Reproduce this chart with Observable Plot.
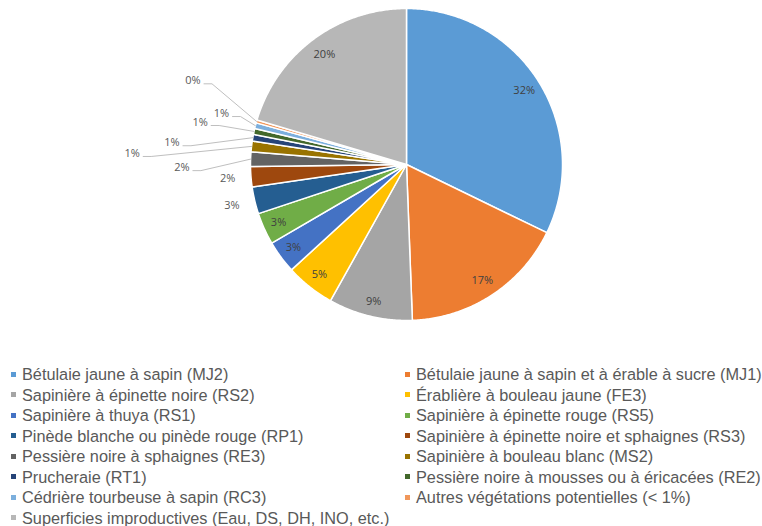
<!DOCTYPE html>
<html><head><meta charset="utf-8">
<script src="https://cdn.jsdelivr.net/npm/d3@7"></script>
<script src="https://cdn.jsdelivr.net/npm/@observablehq/plot@0.6"></script>
<style>
body{margin:0;background:#fff;width:762px;height:526px;overflow:hidden;}
#chart svg{display:block;}
#legend{display:grid;grid-template-columns:403px 359px;padding-top:24px;font-family:"Liberation Sans",Arial,sans-serif;font-size:16.3px;color:#595959;}
.item{height:20.5px;line-height:20.5px;white-space:nowrap;display:flex;align-items:center;}
.item .sw{width:5px;height:5px;margin-right:6px;flex:none;}
.item.l{padding-left:11px;}
.item.r{padding-left:2px;}
</style>
</head><body>
<div id="chart"></div>
<div id="legend"></div>
<script>
// ---- data ----
const categories = [
  "Bétulaie jaune à sapin (MJ2)",
  "Bétulaie jaune à sapin et à érable à sucre (MJ1)",
  "Sapinière à épinette noire (RS2)",
  "Érablière à bouleau jaune (FE3)",
  "Sapinière à thuya (RS1)",
  "Sapinière à épinette rouge (RS5)",
  "Pinède blanche ou pinède rouge (RP1)",
  "Sapinière à épinette noire et sphaignes (RS3)",
  "Pessière noire à sphaignes (RE3)",
  "Sapinière à bouleau blanc (MS2)",
  "Prucheraie (RT1)",
  "Pessière noire à mousses ou à éricacées (RE2)",
  "Cédrière tourbeuse à sapin (RC3)",
  "Autres végétations potentielles (< 1%)",
  "Superficies improductives (Eau, DS, DH, INO, etc.)"
];
const values = [32.2, 17.2, 8.7, 5.1, 3.4, 3.3, 2.8, 2.1, 1.5, 1.1, 0.7, 0.6, 0.6, 0.3, 20.4];
const colors = ["#5B9BD5","#ED7D31","#A5A5A5","#FFC000","#4472C4","#70AD47","#255E91","#9E480E","#636363","#997300","#264478","#43682B","#7CAFDD","#F1975A","#B7B7B7"];

// ---- label layout (polar: radius factor, angle in degrees; null = slice mid-angle) ----
const labelRadius = [0.89,0.89,0.9,0.9,0.9,0.9,1.15,1.15,1.44,1.76,1.51,1.35,1.23,1.47,0.88];
const labelAngle  = [null,null,null,null,null,null,null,null,269.2,272.3,275.3,281.5,285.4,291.4,null];
const withLeader  = [0,0,0,0,0,0,0,0,1,1,1,1,1,1,0];

const R = 156; // pixel radius used only to convert pixel offsets
const total = d3.sum(values);
const arcs = d3.pie().sort(null).value(d => d)(values);

// slice polygons
const slicePts = [];
arcs.forEach((a, i) => {
  const cat = categories[i];
  slicePts.push({cat, x: 0, y: 0});
  const n = Math.max(2, Math.ceil((a.endAngle - a.startAngle) / (Math.PI / 360)));
  for (let k = 0; k <= n; k++) {
    const t = a.startAngle + (a.endAngle - a.startAngle) * k / n;
    slicePts.push({cat, x: Math.sin(t), y: Math.cos(t)});
  }
});

// labels
const labels = arcs.map((a, i) => {
  const mid = (a.startAngle + a.endAngle) / 2;
  const ang = labelAngle[i] == null ? mid : labelAngle[i] * Math.PI / 180;
  const r = labelRadius[i];
  return {
    text: Math.round(values[i] / total * 100) + "%",
    x: r * Math.sin(ang), y: r * Math.cos(ang),
    inside: r < 1, mid, i
  };
});
const insideLabels = labels.filter(d => d.inside);
const outsideLabels = labels.filter(d => !d.inside);

// leader lines
const leaders = [];
labels.forEach(l => {
  if (!withLeader[l.i]) return;
  const sx = l.x + 11 / R, sy = l.y - 3 / R;
  leaders.push({id: l.i, x: sx, y: sy});
  leaders.push({id: l.i, x: sx + 8 / R, y: sy});
  leaders.push({id: l.i, x: Math.sin(l.mid), y: Math.cos(l.mid)});
});

const plot = Plot.plot({
  width: 762,
  height: 340,
  marginLeft: 250,
  marginRight: 200,
  marginTop: 8,
  marginBottom: 20,
  x: {domain: [-1, 1], axis: null},
  y: {domain: [-1, 1], axis: null},
  color: {domain: categories, range: colors, type: "ordinal"},
  style: {fontFamily: "'Open Sans', sans-serif", background: "#fff"},
  marks: [
    Plot.line(slicePts, {x: "x", y: "y", z: "cat", fill: "cat", stroke: "#fff", strokeWidth: 1.5, curve: "linear-closed"}),
    Plot.line(leaders, {x: "x", y: "y", z: "id", stroke: "#BFBFBF", strokeWidth: 1}),
    Plot.text(insideLabels, {x: "x", y: "y", text: "text", fontSize: 11, fill: "#404040"}),
    Plot.text(outsideLabels, {x: "x", y: "y", text: "text", fontSize: 11, fill: "#595959"})
  ]
});
document.getElementById("chart").appendChild(plot);

// legend (row-major, two columns)
const leg = document.getElementById("legend");
categories.forEach((c, i) => {
  const div = document.createElement("div");
  div.className = "item " + (i % 2 === 0 ? "l" : "r");
  const sw = document.createElement("span");
  sw.className = "sw";
  sw.style.background = colors[i];
  div.appendChild(sw);
  div.appendChild(document.createTextNode(c));
  leg.appendChild(div);
});
</script>
</body></html>
